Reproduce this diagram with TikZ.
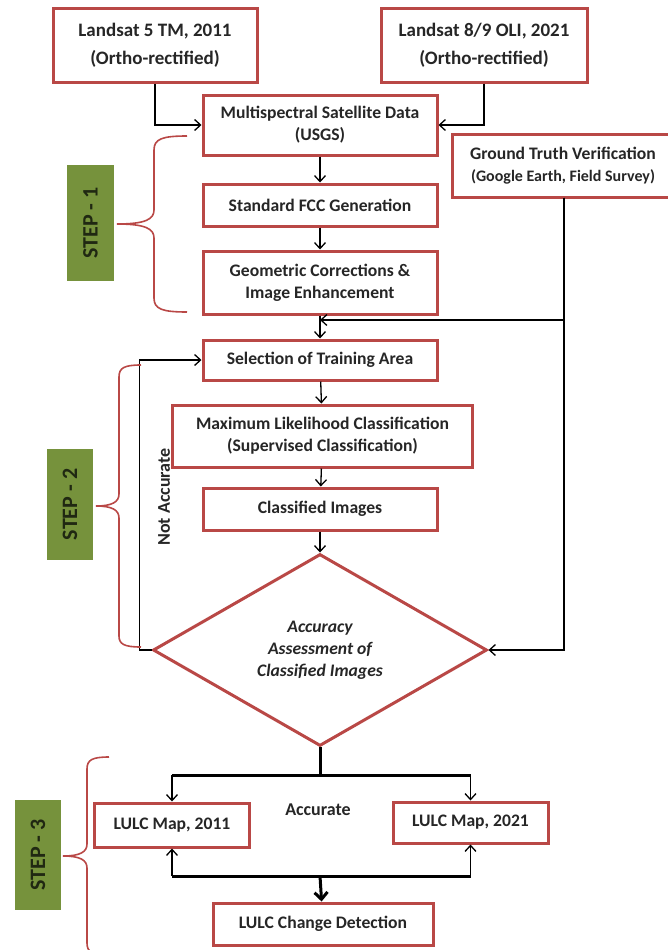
\documentclass[tikz,border=0pt]{standalone}
\usepackage{fontspec}
\setmainfont{Carlito}
\usetikzlibrary{shapes.geometric,arrows.meta}

\definecolor{boxred}{RGB}{185,72,70}
\definecolor{stepgreen}{RGB}{118,146,60}
\definecolor{steptext}{RGB}{32,40,18}

\tikzset{
  flowbox/.style={draw=boxred, line width=3pt, fill=white, align=center, text=black!85,
    font=\fontsize{17.6}{22}\selectfont\bfseries, inner sep=2pt, minimum width=234},
  datebox/.style={flowbox, font=\fontsize{19}{28}\selectfont\bfseries},
  checkbox/.style={diamond, draw=boxred, line width=3pt, align=center, inner sep=2pt, text=black!85,
    font=\fontsize{17.6}{22}\selectfont\bfseries\itshape, minimum width=334, minimum height=190},
  steplbl/.style={fill=stepgreen, rotate=90, text=steptext,
    font=\fontsize{22}{26}\selectfont\bfseries},
  lbl/.style={font=\fontsize{18}{22}\selectfont\bfseries, text=black!85},
  arr/.style={-{Straight Barb[length=6pt,width=11pt]}, line width=1.3pt},
  thickline/.style={line width=3pt},
  thickarr/.style={-{Straight Barb[length=7pt,width=13pt,line width=3pt]}, line width=3pt},
  bracered/.style={draw=boxred, line width=1.6pt}
}

\begin{document}
\begin{tikzpicture}[x=1pt,y=-1pt]
        \useasboundingbox (0,0) rectangle (668,950);

        % input data
        \node[datebox, minimum width=204, minimum height=73] (ls5) at (155,45.5) {Landsat 5 TM, 2011\\(Ortho-rectified)};
        \node[datebox, minimum width=206, minimum height=73] (ls8) at (484,45.5) {Landsat 8/9 OLI, 2021\\(Ortho-rectified)};

        % step 1
        \node[flowbox, minimum height=60] (msd) at (320,125) {Multispectral Satellite Data\\(USGS)};
        \node[flowbox, minimum height=42] (fcc) at (320,205) {Standard FCC Generation};
        \node[flowbox, minimum height=63] (geo) at (320,282.5) {Geometric Corrections \&\\Image Enhancement};
        \node[flowbox, minimum width=222, minimum height=63] (gt) at (563,166) {Ground Truth Verification\\{\fontsize{16}{18}\selectfont (Google Earth, Field Survey)}};

        % step 2
        \node[flowbox, minimum height=40] (sel) at (320,360) {Selection of Training Area};
        \node[flowbox, minimum width=300, minimum height=62] (mlc) at (322.5,436) {Maximum Likelihood Classification\\(Supervised Classification)};
        \node[flowbox, minimum height=42] (cls) at (320,509) {Classified Images};
        \node[checkbox] (acc) at (320,650) {Accuracy\\Assessment of\\Classified Images};
        \node[lbl, rotate=90] (notacc) at (164,497) {Not Accurate};

        % step 3
        \node[flowbox, minimum width=155, minimum height=44] (m11) at (172,825) {LULC Map, 2011};
        \node[flowbox, minimum width=155, minimum height=41] (m21) at (470.5,822.5) {LULC Map, 2021};
        \node[flowbox, minimum width=220, minimum height=42] (chg) at (323,924) {LULC Change Detection};
        \node[lbl] (accu) at (318,810) {Accurate};

        \node[steplbl, minimum width=116, minimum height=47] (step1) at (90.5,223) {STEP - 1};
        \node[steplbl, minimum width=111, minimum height=46] (step2) at (70,504.5) {STEP - 2};
        \node[steplbl, minimum width=110, minimum height=46] (step3) at (38,855) {STEP - 3};

        \coordinate (gtx) at (564,197.5);
        \coordinate (jn) at (320,320);
        \coordinate (split) at (320,775);
        \coordinate (merge) at (320,876);

        % connectors
        \draw[arr] (ls5.south) |- (msd.west);
        \draw[arr] (ls8.south) |- (msd.east);
        \draw[arr] (msd) -- (fcc);
        \draw[arr] (fcc) -- (geo);
        \draw[arr] (geo) -- (sel);
        \draw[arr] (gtx) |- (jn);
        \draw[arr] (gtx) |- (acc.east);
        \draw[arr] (sel) -- (mlc);
        \draw[arr] (mlc) -- (cls);
        \draw[arr] (cls) -- (acc);
        \draw[arr] (acc.west) -- ++(-12,0) |- (sel.west);

        \draw[thickline] (acc.south) -- (split);
        \draw[thickline] (m11.north |- split) -- (m21.north |- split);
        \draw[arr] (m11.north |- split) -- (m11.north);
        \draw[arr] (m21.north |- split) -- (m21.north);
        \draw[thickline] (m11.south |- merge) -- (m21.south |- merge);
        \draw[arr] (m11.south |- merge) -- (m11.south);
        \draw[arr] (m21.south |- merge) -- (m21.south);
        \draw[thickarr] (merge) -- (chg);

        % braces
        \draw[bracered] (187,136) .. controls (162,136) and (154,139) .. (154,150) -- (154,210) .. controls (154,219) and (146,224) .. (117,224) .. controls (146,224) and (154,229) .. (154,238) -- (154,298) .. controls (154,309) and (162,312) .. (187,312);
        \draw[bracered] (141,365) .. controls (124,365) and (119,368) .. (119,377) -- (119,494) .. controls (119,502) and (112,506) .. (96,506) .. controls (112,506) and (119,510) .. (119,518) -- (119,636) .. controls (119,644) and (124,647) .. (141,647);
        \draw[bracered] (109,757) .. controls (92,757) and (87,760) .. (87,769) -- (87,844) .. controls (87,852) and (80,856) .. (63,856) .. controls (80,856) and (87,860) .. (87,868) -- (87,943) .. controls (87,952) and (92,955) .. (109,955);
\end{tikzpicture}
\end{document}
